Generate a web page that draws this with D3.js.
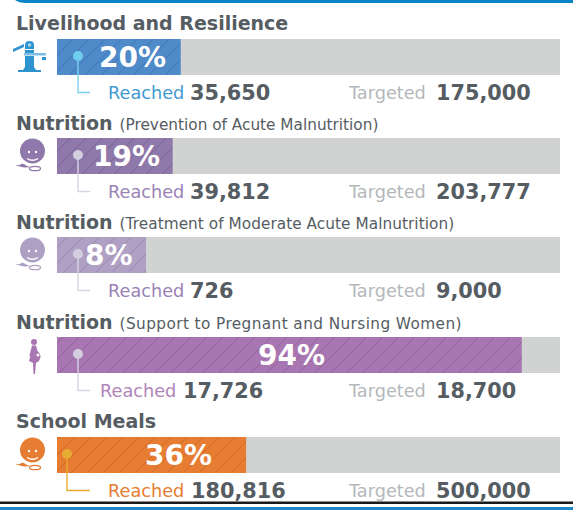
<!DOCTYPE html>
<html><head><meta charset="utf-8">
<script src="https://cdn.jsdelivr.net/npm/d3@7"></script>
<style>html,body{margin:0;padding:0;background:#fff}svg{display:block}text{font-family:"DejaVu Sans",sans-serif}</style>
</head><body><div id="c"></div>
<script>
const titles=["Livelihood and Resilience","Nutrition","Nutrition","Nutrition","School Meals"];
const subtitles=["","(Prevention of Acute Malnutrition)","(Treatment of Moderate Acute Malnutrition)","(Support to Pregnant and Nursing Women)",""];
const subtitleSpacing=[0,0,0.05,0.41,0];
const percentLabels=["20%","19%","8%","94%","36%"];
const drawnLengths=[24.6,23.0,17.7,92.4,37.6];
const reached=["35,650","39,812","726","17,726","180,816"];
const targeted=["175,000","203,777","9,000","18,700","500,000"];
const colors=["#4f8ac9","#8f78aa","#b0a0c4","#a876b0","#e67d33"];
const hatch=["#3c6aa8","#6f5a8c","#8f7daa","#8a5a94","#c9601f"];
const dots=["#6fcdf0","#d2cede","#d2cede","#d2cede","#e8ab33"];
const leaders=["#7fd0f0","#d8d4e2","#d8d4e2","#d8d4e2","#eaaa33"];
const reachedColors=["#3f9bd0","#9a82b5","#9a82b5","#b084b8","#e67d33"];
const icons=["pump","face","face","woman","face"];
const iconColors=["#2f93cf","#8f78aa","#ada0c4","#a876b0","#e67d33"];
const rowTops=[39,138,237,337,437];
const titleY=[30,130,229,329,428];
const labelX=[99,93,85,258,145];
const dotX=[78,78,78,78,67];
const reachedX=[108,108,108,100,108];
const reachedValX=[190,190,190,183,191];
const targetValX=[436,436,436,436,436];

const W=573,H=511;
const svg=d3.select("#c").append("svg").attr("width",W).attr("height",H);
const defs=svg.append("defs");
colors.forEach((c,i)=>{
  const p=defs.append("pattern").attr("id","h"+i).attr("patternUnits","userSpaceOnUse").attr("width",11.3).attr("height",11.3).attr("patternTransform","rotate(45)");
  p.append("rect").attr("width",11.3).attr("height",11.3).attr("fill",c);
  p.append("line").attr("x1",0).attr("y1",0).attr("x2",0).attr("y2",11.3).attr("stroke",hatch[i]).attr("stroke-width",1.1);
});
const x=d3.scaleLinear().domain([0,100]).range([57,560]);
const barH=36;

// frame
svg.append("path").attr("d","M15 0 Q19 3 26 3 L573 3 L573 0 Z").attr("fill","#0a86c8");
svg.append("rect").attr("x",0).attr("y",501.5).attr("width",W).attr("height",2.5).attr("fill","#1a1a1a");
svg.append("rect").attr("x",0).attr("y",507).attr("width",W).attr("height",3).attr("fill","#1f86c6");

const g=svg.selectAll("g.row").data(titles).join("g").attr("class","row");
g.append("text").attr("x",16).attr("y",(d,i)=>titleY[i]).attr("font-size",19).attr("font-weight","bold").attr("fill","#555c62")
  .text(d=>d).append("tspan").attr("dx",7).attr("font-size",15.3).attr("font-weight","normal").attr("letter-spacing",(d,i)=>subtitleSpacing[i]).text((d,i)=>subtitles[i]);
g.append("rect").attr("x",x(0)).attr("y",(d,i)=>rowTops[i]).attr("width",x(100)-x(0)).attr("height",barH).attr("fill","#d1d3d2");
g.append("rect").attr("x",x(0)).attr("y",(d,i)=>rowTops[i]).attr("width",(d,i)=>x(drawnLengths[i])-x(0)).attr("height",barH).attr("fill",(d,i)=>`url(#h${i})`);
g.append("path").attr("d",(d,i)=>`M${dotX[i]} ${rowTops[i]+16}V${rowTops[i]+53.5}H90`).attr("fill","none").attr("stroke",(d,i)=>leaders[i]).attr("stroke-width",1.4);
g.append("circle").attr("cx",(d,i)=>dotX[i]).attr("cy",(d,i)=>rowTops[i]+17).attr("r",5).attr("fill",(d,i)=>dots[i]);
g.append("text").attr("x",(d,i)=>labelX[i]).attr("y",(d,i)=>rowTops[i]+28).attr("font-size",28).attr("font-weight","bold").attr("fill","#fff").text((d,i)=>percentLabels[i]);
g.append("text").attr("x",(d,i)=>reachedX[i]).attr("y",(d,i)=>rowTops[i]+60).attr("font-size",17.7).attr("fill",(d,i)=>reachedColors[i]).text("Reached");
g.append("text").attr("x",(d,i)=>reachedValX[i]).attr("y",(d,i)=>rowTops[i]+61).attr("font-size",20.8).attr("font-weight","bold").attr("fill","#555c62").text((d,i)=>reached[i]);
g.append("text").attr("x",349).attr("y",(d,i)=>rowTops[i]+60).attr("font-size",17.7).attr("fill","#b3b8ba").text("Targeted");
g.append("text").attr("x",(d,i)=>targetValX[i]).attr("y",(d,i)=>rowTops[i]+61).attr("font-size",20.8).attr("font-weight","bold").attr("fill","#555c62").text((d,i)=>targeted[i]);

// icons
g.each(function(d,i){
  const t=d3.select(this).append("g").attr("transform",`translate(0,${rowTops[i]})`).attr("fill",iconColors[i]);
  if(icons[i]==="pump"){
    t.append("path").attr("d","M13 10L24 5V8L13 13Z");
    t.append("path").attr("d","M25 6Q25 2 29.5 2Q34 2 34 6V10H25Z");
    t.append("circle").attr("cx",29.5).attr("cy",6).attr("r",1.8).attr("fill","#a8d6ef");
    t.append("rect").attr("x",24).attr("y",14).attr("width",22).attr("height",2.5).attr("fill","#7dbfe6");
    t.append("rect").attr("x",42).attr("y",18).attr("width",4).attr("height",3);
    t.append("path").attr("d","M25 11H34V14H25ZM25 17H34V28L36 31H41V33H18V31H23L25 28Z");
  } else if(icons[i]==="face"){
    t.append("circle").attr("cx",32.5).attr("cy",13).attr("r",12.5);
    t.append("circle").attr("cx",29).attr("cy",14).attr("r",1.2).attr("fill","#fff");
    t.append("circle").attr("cx",36).attr("cy",14).attr("r",1.2).attr("fill","#fff");
    t.append("path").attr("d","M27 20.5Q32.5 24 38 20.5").attr("fill","none").attr("stroke","#fff").attr("stroke-width",1.4);
    t.append("path").attr("d","M15 27.5L20 27Q23 24.5 26 27.5L30 29L26 29.5Q22 29.5 20 28.5Z");
    t.append("ellipse").attr("cx",35).attr("cy",30.5).attr("rx",5.5).attr("ry",2.2).attr("fill","none").attr("stroke",iconColors[i]).attr("stroke-width",1.3);
  } else {
    t.append("circle").attr("cx",34).attr("cy",5).attr("r",3);
    t.append("path").attr("d","M32 8.5H36L37.5 14Q42.5 18 39 24L36 26L35 37H33.5L33 26L29 24L31.5 14L30.5 19H29.3Z");
    t.append("circle").attr("cx",38).attr("cy",18).attr("r",1.5).attr("fill","#fff");
  }
});
</script></body></html>
